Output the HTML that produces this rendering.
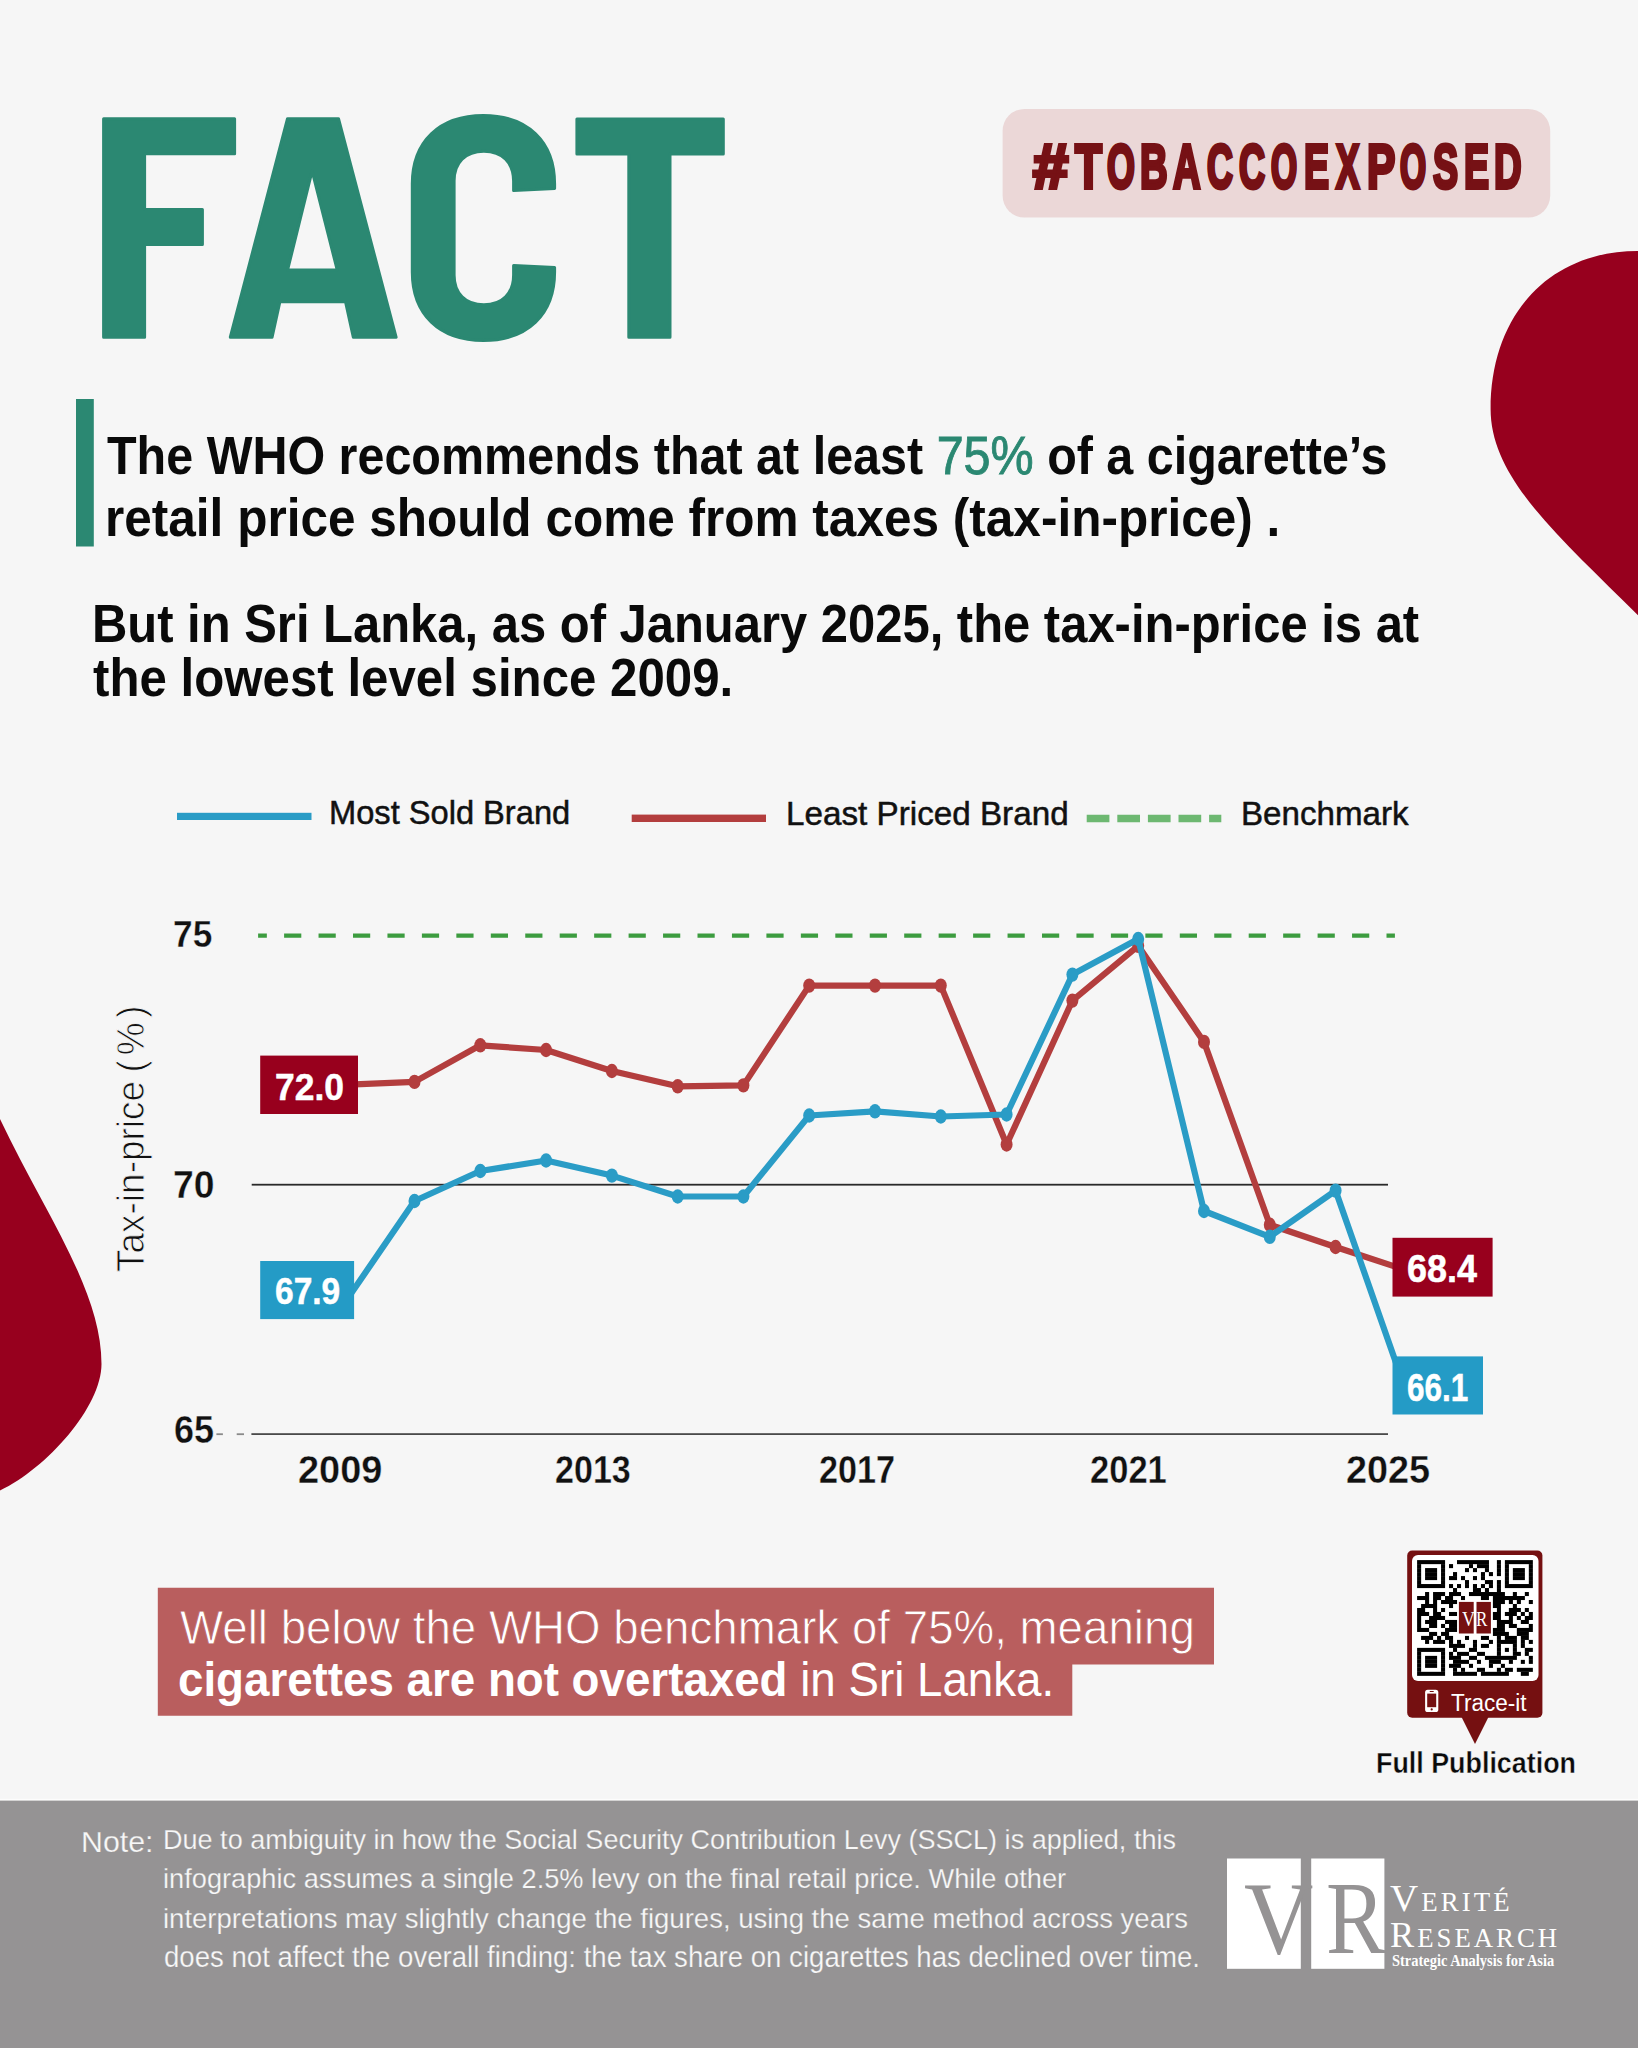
<!DOCTYPE html><html><head><meta charset="utf-8"><style>html,body{margin:0;padding:0}body{width:1638px;height:2048px;overflow:hidden;position:relative;background:#f6f6f6;font-family:"Liberation Sans",sans-serif}.t{position:absolute;white-space:nowrap;line-height:1;transform-origin:0 0}svg{position:absolute;left:0;top:0}</style></head><body><svg width="1638" height="2048" viewBox="0 0 1638 2048"><path fill="#97001e" d="M1638,251 C1549.6,251 1490.6,314.2 1490.6,409 C1490.6,479 1560.2,537.5 1638,615.3 Z"/><path fill="#97001e" d="M0,1119 C44,1212 101.5,1290 101.5,1364 C101.5,1407 47,1468 0,1490.6 Z"/><g fill="#2b8872" stroke="#2b8872" stroke-width="3" stroke-linejoin="round"><path d="M103.6,118.7 H234.6 V153.8 H144.6 V209.5 H202.4 V244.4 H144.6 V337.2 H103.6 Z"/><path fill-rule="evenodd" d="M230.3,337.2 L287.5,118.7 H338.5 L396.1,337.2 H353.3 L345.5,301.7 H279.9 L272.1,337.2 Z M312.1,171 L337.2,269.9 H287.6 Z"/><path d="M554.6,188.6 L513.6,190.6 L513.6,181 C513.6,162.6 502.25,151.25 483.85,151.25 C465.45,151.25 454.1,162.6 454.1,181 L454.1,275 C454.1,293.4 465.45,304.75 483.85,304.75 C502.25,304.75 513.6,293.4 513.6,275 L513.6,265.6 L554.6,267.6 L554.6,272 C554.6,314.5 527.55,340.5 483.45,340.5 C439.35,340.5 412.3,314.5 412.3,272 L412.3,184 C412.3,141.5 439.35,115.5 483.45,115.5 C527.55,115.5 554.6,141.5 554.6,184 Z"/><path d="M576.9,119.1 H723.3 V154.1 H670 V337.2 H628.8 V154.1 H576.9 Z"/></g><rect x="1002.6" y="108.9" width="547.6" height="108.7" rx="22" fill="#ebd7d7"/><rect x="76" y="399" width="17.8" height="147.5" fill="#2b8872"/><rect x="177" y="812.8" width="134.5" height="7.2" fill="#2a9cc6"/><rect x="631.7" y="814.6" width="134.3" height="7.4" fill="#b33e3e"/><line x1="1086.7" y1="818.5" x2="1221.3" y2="818.5" stroke="#6db871" stroke-width="7.4" stroke-dasharray="22.7 7.9"/><rect x="251.7" y="1183.8" width="1136.3" height="1.8" fill="#2a2a2a"/><rect x="251.4" y="1433.2" width="1136.6" height="1.8" fill="#4a4a4a"/><rect x="216.4" y="1433.3" width="6.5" height="1.8" fill="#8a8a8a"/><rect x="236.7" y="1433.3" width="7.3" height="1.8" fill="#8a8a8a"/><line x1="258.1" y1="935.6" x2="1394.9" y2="935.6" stroke="#3c9c3f" stroke-width="4.4" stroke-dasharray="17.2 17.25" stroke-dashoffset="8.45"/><polyline fill="none" stroke="#b33e3e" stroke-width="6.2" stroke-linejoin="round" points="348.7,1084.7 414.5,1081.9 480.3,1045.3 546.1,1050.0 611.9,1071.0 677.7,1086.3 743.4,1085.4 809.2,985.6 875.0,985.6 940.8,985.6 1006.6,1144.5 1072.4,1000.6 1138.2,945.8 1204.0,1041.9 1269.8,1224.8 1335.6,1247.0 1401.3,1268.6"/><ellipse cx="414.5" cy="1081.9" rx="6" ry="7.2" fill="#b33e3e"/><ellipse cx="480.3" cy="1045.3" rx="6" ry="7.2" fill="#b33e3e"/><ellipse cx="546.1" cy="1050.0" rx="6" ry="7.2" fill="#b33e3e"/><ellipse cx="611.9" cy="1071.0" rx="6" ry="7.2" fill="#b33e3e"/><ellipse cx="677.7" cy="1086.3" rx="6" ry="7.2" fill="#b33e3e"/><ellipse cx="743.4" cy="1085.4" rx="6" ry="7.2" fill="#b33e3e"/><ellipse cx="809.2" cy="985.6" rx="6" ry="7.2" fill="#b33e3e"/><ellipse cx="875.0" cy="985.6" rx="6" ry="7.2" fill="#b33e3e"/><ellipse cx="940.8" cy="985.6" rx="6" ry="7.2" fill="#b33e3e"/><ellipse cx="1006.6" cy="1144.5" rx="6" ry="7.2" fill="#b33e3e"/><ellipse cx="1072.4" cy="1000.6" rx="6" ry="7.2" fill="#b33e3e"/><ellipse cx="1138.2" cy="945.8" rx="6" ry="7.2" fill="#b33e3e"/><ellipse cx="1204.0" cy="1041.9" rx="6" ry="7.2" fill="#b33e3e"/><ellipse cx="1269.8" cy="1224.8" rx="6" ry="7.2" fill="#b33e3e"/><ellipse cx="1335.6" cy="1247.0" rx="6" ry="7.2" fill="#b33e3e"/><polyline fill="none" stroke="#2a9cc6" stroke-width="6.2" stroke-linejoin="round" points="348.7,1297.0 414.5,1201.0 480.3,1171.0 546.1,1160.5 611.9,1175.6 677.7,1196.5 743.4,1196.5 809.2,1115.5 875.0,1111.3 940.8,1116.5 1006.6,1114.5 1072.4,974.6 1138.2,939.0 1204.0,1211.0 1269.8,1236.8 1335.6,1190.6 1401.3,1378.0"/><ellipse cx="414.5" cy="1201.0" rx="6" ry="7.2" fill="#2a9cc6"/><ellipse cx="480.3" cy="1171.0" rx="6" ry="7.2" fill="#2a9cc6"/><ellipse cx="546.1" cy="1160.5" rx="6" ry="7.2" fill="#2a9cc6"/><ellipse cx="611.9" cy="1175.6" rx="6" ry="7.2" fill="#2a9cc6"/><ellipse cx="677.7" cy="1196.5" rx="6" ry="7.2" fill="#2a9cc6"/><ellipse cx="743.4" cy="1196.5" rx="6" ry="7.2" fill="#2a9cc6"/><ellipse cx="809.2" cy="1115.5" rx="6" ry="7.2" fill="#2a9cc6"/><ellipse cx="875.0" cy="1111.3" rx="6" ry="7.2" fill="#2a9cc6"/><ellipse cx="940.8" cy="1116.5" rx="6" ry="7.2" fill="#2a9cc6"/><ellipse cx="1006.6" cy="1114.5" rx="6" ry="7.2" fill="#2a9cc6"/><ellipse cx="1072.4" cy="974.6" rx="6" ry="7.2" fill="#2a9cc6"/><ellipse cx="1138.2" cy="939.0" rx="6" ry="7.2" fill="#2a9cc6"/><ellipse cx="1204.0" cy="1211.0" rx="6" ry="7.2" fill="#2a9cc6"/><ellipse cx="1269.8" cy="1236.8" rx="6" ry="7.2" fill="#2a9cc6"/><ellipse cx="1335.6" cy="1190.6" rx="6" ry="7.2" fill="#2a9cc6"/><rect x="260.2" y="1055.6" width="97.8" height="58.4" fill="#98001d"/><rect x="260.2" y="1261" width="93.9" height="58.1" fill="#249bc6"/><rect x="1392.5" y="1237.8" width="100.1" height="58.8" fill="#98001d"/><rect x="1392.5" y="1356.4" width="90.5" height="58.1" fill="#249bc6"/><path fill="#b95e5e" d="M157.8,1587.8 H1214 V1664.4 H1072.3 V1715.8 H157.8 Z"/><rect x="1407.2" y="1550.5" width="135.2" height="167.2" rx="5" fill="#751011"/><path fill="#751011" d="M1461,1716 L1489,1716 L1475,1744 Z"/><rect x="1412" y="1555" width="126.5" height="126" rx="6" fill="#fff"/><g fill="#000"><rect x="1417.10" y="1560.10" width="27.98" height="4.04"/><rect x="1457.00" y="1560.10" width="31.97" height="4.04"/><rect x="1496.90" y="1560.10" width="4.04" height="4.04"/><rect x="1504.88" y="1560.10" width="27.98" height="4.04"/><rect x="1417.10" y="1564.09" width="4.04" height="4.04"/><rect x="1441.04" y="1564.09" width="4.04" height="4.04"/><rect x="1449.02" y="1564.09" width="4.04" height="4.04"/><rect x="1468.97" y="1564.09" width="4.04" height="4.04"/><rect x="1476.95" y="1564.09" width="12.02" height="4.04"/><rect x="1496.90" y="1564.09" width="4.04" height="4.04"/><rect x="1504.88" y="1564.09" width="4.04" height="4.04"/><rect x="1528.82" y="1564.09" width="4.04" height="4.04"/><rect x="1417.10" y="1568.08" width="4.04" height="4.04"/><rect x="1425.08" y="1568.08" width="12.02" height="4.04"/><rect x="1441.04" y="1568.08" width="4.04" height="4.04"/><rect x="1464.98" y="1568.08" width="4.04" height="4.04"/><rect x="1472.96" y="1568.08" width="4.04" height="4.04"/><rect x="1484.93" y="1568.08" width="4.04" height="4.04"/><rect x="1496.90" y="1568.08" width="4.04" height="4.04"/><rect x="1504.88" y="1568.08" width="4.04" height="4.04"/><rect x="1512.86" y="1568.08" width="12.02" height="4.04"/><rect x="1528.82" y="1568.08" width="4.04" height="4.04"/><rect x="1417.10" y="1572.07" width="4.04" height="4.04"/><rect x="1425.08" y="1572.07" width="12.02" height="4.04"/><rect x="1441.04" y="1572.07" width="4.04" height="4.04"/><rect x="1453.01" y="1572.07" width="4.04" height="4.04"/><rect x="1480.94" y="1572.07" width="4.04" height="4.04"/><rect x="1488.92" y="1572.07" width="4.04" height="4.04"/><rect x="1496.90" y="1572.07" width="4.04" height="4.04"/><rect x="1504.88" y="1572.07" width="4.04" height="4.04"/><rect x="1512.86" y="1572.07" width="12.02" height="4.04"/><rect x="1528.82" y="1572.07" width="4.04" height="4.04"/><rect x="1417.10" y="1576.06" width="4.04" height="4.04"/><rect x="1425.08" y="1576.06" width="12.02" height="4.04"/><rect x="1441.04" y="1576.06" width="4.04" height="4.04"/><rect x="1449.02" y="1576.06" width="8.03" height="4.04"/><rect x="1460.99" y="1576.06" width="4.04" height="4.04"/><rect x="1472.96" y="1576.06" width="4.04" height="4.04"/><rect x="1480.94" y="1576.06" width="4.04" height="4.04"/><rect x="1504.88" y="1576.06" width="4.04" height="4.04"/><rect x="1512.86" y="1576.06" width="12.02" height="4.04"/><rect x="1528.82" y="1576.06" width="4.04" height="4.04"/><rect x="1417.10" y="1580.05" width="4.04" height="4.04"/><rect x="1441.04" y="1580.05" width="4.04" height="4.04"/><rect x="1464.98" y="1580.05" width="4.04" height="4.04"/><rect x="1484.93" y="1580.05" width="8.03" height="4.04"/><rect x="1496.90" y="1580.05" width="4.04" height="4.04"/><rect x="1504.88" y="1580.05" width="4.04" height="4.04"/><rect x="1528.82" y="1580.05" width="4.04" height="4.04"/><rect x="1417.10" y="1584.04" width="27.98" height="4.04"/><rect x="1449.02" y="1584.04" width="4.04" height="4.04"/><rect x="1457.00" y="1584.04" width="4.04" height="4.04"/><rect x="1464.98" y="1584.04" width="4.04" height="4.04"/><rect x="1472.96" y="1584.04" width="4.04" height="4.04"/><rect x="1480.94" y="1584.04" width="4.04" height="4.04"/><rect x="1488.92" y="1584.04" width="4.04" height="4.04"/><rect x="1496.90" y="1584.04" width="4.04" height="4.04"/><rect x="1504.88" y="1584.04" width="27.98" height="4.04"/><rect x="1453.01" y="1588.03" width="4.04" height="4.04"/><rect x="1472.96" y="1588.03" width="8.03" height="4.04"/><rect x="1484.93" y="1588.03" width="4.04" height="4.04"/><rect x="1496.90" y="1588.03" width="4.04" height="4.04"/><rect x="1425.08" y="1592.02" width="4.04" height="4.04"/><rect x="1433.06" y="1592.02" width="12.02" height="4.04"/><rect x="1449.02" y="1592.02" width="12.02" height="4.04"/><rect x="1468.97" y="1592.02" width="35.96" height="4.04"/><rect x="1512.86" y="1592.02" width="4.04" height="4.04"/><rect x="1524.83" y="1592.02" width="4.04" height="4.04"/><rect x="1417.10" y="1596.01" width="12.02" height="4.04"/><rect x="1433.06" y="1596.01" width="8.03" height="4.04"/><rect x="1445.03" y="1596.01" width="8.03" height="4.04"/><rect x="1460.99" y="1596.01" width="4.04" height="4.04"/><rect x="1480.94" y="1596.01" width="8.03" height="4.04"/><rect x="1492.91" y="1596.01" width="31.97" height="4.04"/><rect x="1425.08" y="1600.00" width="4.04" height="4.04"/><rect x="1433.06" y="1600.00" width="4.04" height="4.04"/><rect x="1441.04" y="1600.00" width="16.01" height="4.04"/><rect x="1492.91" y="1600.00" width="12.02" height="4.04"/><rect x="1508.87" y="1600.00" width="4.04" height="4.04"/><rect x="1516.85" y="1600.00" width="4.04" height="4.04"/><rect x="1528.82" y="1600.00" width="4.04" height="4.04"/><rect x="1421.09" y="1603.99" width="16.01" height="4.04"/><rect x="1449.02" y="1603.99" width="4.04" height="4.04"/><rect x="1492.91" y="1603.99" width="8.03" height="4.04"/><rect x="1512.86" y="1603.99" width="4.04" height="4.04"/><rect x="1417.10" y="1607.98" width="8.03" height="4.04"/><rect x="1433.06" y="1607.98" width="4.04" height="4.04"/><rect x="1441.04" y="1607.98" width="4.04" height="4.04"/><rect x="1496.90" y="1607.98" width="4.04" height="4.04"/><rect x="1508.87" y="1607.98" width="12.02" height="4.04"/><rect x="1524.83" y="1607.98" width="4.04" height="4.04"/><rect x="1417.10" y="1611.97" width="12.02" height="4.04"/><rect x="1433.06" y="1611.97" width="8.03" height="4.04"/><rect x="1449.02" y="1611.97" width="8.03" height="4.04"/><rect x="1492.91" y="1611.97" width="8.03" height="4.04"/><rect x="1504.88" y="1611.97" width="12.02" height="4.04"/><rect x="1520.84" y="1611.97" width="4.04" height="4.04"/><rect x="1528.82" y="1611.97" width="4.04" height="4.04"/><rect x="1417.10" y="1615.96" width="4.04" height="4.04"/><rect x="1429.07" y="1615.96" width="16.01" height="4.04"/><rect x="1492.91" y="1615.96" width="8.03" height="4.04"/><rect x="1508.87" y="1615.96" width="4.04" height="4.04"/><rect x="1516.85" y="1615.96" width="4.04" height="4.04"/><rect x="1524.83" y="1615.96" width="8.03" height="4.04"/><rect x="1417.10" y="1619.95" width="4.04" height="4.04"/><rect x="1425.08" y="1619.95" width="12.02" height="4.04"/><rect x="1445.03" y="1619.95" width="12.02" height="4.04"/><rect x="1496.90" y="1619.95" width="16.01" height="4.04"/><rect x="1520.84" y="1619.95" width="8.03" height="4.04"/><rect x="1417.10" y="1623.94" width="4.04" height="4.04"/><rect x="1429.07" y="1623.94" width="8.03" height="4.04"/><rect x="1441.04" y="1623.94" width="4.04" height="4.04"/><rect x="1449.02" y="1623.94" width="8.03" height="4.04"/><rect x="1496.90" y="1623.94" width="8.03" height="4.04"/><rect x="1508.87" y="1623.94" width="8.03" height="4.04"/><rect x="1528.82" y="1623.94" width="4.04" height="4.04"/><rect x="1417.10" y="1627.93" width="12.02" height="4.04"/><rect x="1445.03" y="1627.93" width="12.02" height="4.04"/><rect x="1492.91" y="1627.93" width="12.02" height="4.04"/><rect x="1516.85" y="1627.93" width="16.01" height="4.04"/><rect x="1429.07" y="1631.92" width="8.03" height="4.04"/><rect x="1441.04" y="1631.92" width="8.03" height="4.04"/><rect x="1492.91" y="1631.92" width="16.01" height="4.04"/><rect x="1516.85" y="1631.92" width="12.02" height="4.04"/><rect x="1421.09" y="1635.91" width="12.02" height="4.04"/><rect x="1437.05" y="1635.91" width="4.04" height="4.04"/><rect x="1445.03" y="1635.91" width="8.03" height="4.04"/><rect x="1464.98" y="1635.91" width="4.04" height="4.04"/><rect x="1480.94" y="1635.91" width="8.03" height="4.04"/><rect x="1496.90" y="1635.91" width="4.04" height="4.04"/><rect x="1504.88" y="1635.91" width="12.02" height="4.04"/><rect x="1520.84" y="1635.91" width="8.03" height="4.04"/><rect x="1425.08" y="1639.90" width="4.04" height="4.04"/><rect x="1433.06" y="1639.90" width="12.02" height="4.04"/><rect x="1449.02" y="1639.90" width="4.04" height="4.04"/><rect x="1457.00" y="1639.90" width="4.04" height="4.04"/><rect x="1472.96" y="1639.90" width="4.04" height="4.04"/><rect x="1488.92" y="1639.90" width="4.04" height="4.04"/><rect x="1496.90" y="1639.90" width="20.00" height="4.04"/><rect x="1520.84" y="1639.90" width="4.04" height="4.04"/><rect x="1528.82" y="1639.90" width="4.04" height="4.04"/><rect x="1449.02" y="1643.89" width="16.01" height="4.04"/><rect x="1472.96" y="1643.89" width="4.04" height="4.04"/><rect x="1480.94" y="1643.89" width="8.03" height="4.04"/><rect x="1496.90" y="1643.89" width="4.04" height="4.04"/><rect x="1512.86" y="1643.89" width="4.04" height="4.04"/><rect x="1520.84" y="1643.89" width="4.04" height="4.04"/><rect x="1417.10" y="1647.88" width="27.98" height="4.04"/><rect x="1453.01" y="1647.88" width="4.04" height="4.04"/><rect x="1468.97" y="1647.88" width="8.03" height="4.04"/><rect x="1496.90" y="1647.88" width="4.04" height="4.04"/><rect x="1504.88" y="1647.88" width="4.04" height="4.04"/><rect x="1512.86" y="1647.88" width="4.04" height="4.04"/><rect x="1524.83" y="1647.88" width="8.03" height="4.04"/><rect x="1417.10" y="1651.87" width="4.04" height="4.04"/><rect x="1441.04" y="1651.87" width="4.04" height="4.04"/><rect x="1449.02" y="1651.87" width="4.04" height="4.04"/><rect x="1457.00" y="1651.87" width="12.02" height="4.04"/><rect x="1476.95" y="1651.87" width="8.03" height="4.04"/><rect x="1496.90" y="1651.87" width="4.04" height="4.04"/><rect x="1512.86" y="1651.87" width="8.03" height="4.04"/><rect x="1524.83" y="1651.87" width="4.04" height="4.04"/><rect x="1417.10" y="1655.86" width="4.04" height="4.04"/><rect x="1425.08" y="1655.86" width="12.02" height="4.04"/><rect x="1441.04" y="1655.86" width="4.04" height="4.04"/><rect x="1449.02" y="1655.86" width="12.02" height="4.04"/><rect x="1468.97" y="1655.86" width="8.03" height="4.04"/><rect x="1484.93" y="1655.86" width="31.97" height="4.04"/><rect x="1528.82" y="1655.86" width="4.04" height="4.04"/><rect x="1417.10" y="1659.85" width="4.04" height="4.04"/><rect x="1425.08" y="1659.85" width="12.02" height="4.04"/><rect x="1441.04" y="1659.85" width="4.04" height="4.04"/><rect x="1453.01" y="1659.85" width="16.01" height="4.04"/><rect x="1476.95" y="1659.85" width="4.04" height="4.04"/><rect x="1488.92" y="1659.85" width="12.02" height="4.04"/><rect x="1508.87" y="1659.85" width="4.04" height="4.04"/><rect x="1520.84" y="1659.85" width="4.04" height="4.04"/><rect x="1528.82" y="1659.85" width="4.04" height="4.04"/><rect x="1417.10" y="1663.84" width="4.04" height="4.04"/><rect x="1425.08" y="1663.84" width="12.02" height="4.04"/><rect x="1441.04" y="1663.84" width="4.04" height="4.04"/><rect x="1449.02" y="1663.84" width="12.02" height="4.04"/><rect x="1468.97" y="1663.84" width="4.04" height="4.04"/><rect x="1488.92" y="1663.84" width="4.04" height="4.04"/><rect x="1500.89" y="1663.84" width="4.04" height="4.04"/><rect x="1417.10" y="1667.83" width="4.04" height="4.04"/><rect x="1441.04" y="1667.83" width="4.04" height="4.04"/><rect x="1453.01" y="1667.83" width="4.04" height="4.04"/><rect x="1460.99" y="1667.83" width="4.04" height="4.04"/><rect x="1476.95" y="1667.83" width="8.03" height="4.04"/><rect x="1496.90" y="1667.83" width="4.04" height="4.04"/><rect x="1504.88" y="1667.83" width="8.03" height="4.04"/><rect x="1516.85" y="1667.83" width="16.01" height="4.04"/><rect x="1417.10" y="1671.82" width="27.98" height="4.04"/><rect x="1453.01" y="1671.82" width="23.99" height="4.04"/><rect x="1480.94" y="1671.82" width="27.98" height="4.04"/><rect x="1520.84" y="1671.82" width="8.03" height="4.04"/></g><rect x="1458.3" y="1601.5" width="33.2" height="32.6" fill="#fff"/><rect x="1458.9" y="1601.9" width="14.8" height="31.6" fill="#751011"/><rect x="1476.5" y="1601.9" width="14.4" height="31.6" fill="#751011"/><rect x="1425.1" y="1689.8" width="13.2" height="22.2" rx="2.6" fill="#fff"/><rect x="1427.2" y="1693.6" width="9" height="13.6" fill="#751011"/><rect x="1429.6" y="1691.1" width="4.2" height="1" rx="0.5" fill="#751011"/><circle cx="1431.7" cy="1709.4" r="1.1" fill="#751011"/><rect x="0" y="1800.5" width="1638" height="248" fill="#959394"/><rect x="0" y="1798.8" width="1638" height="1.5" fill="#fff" opacity="0.8"/><rect x="1227" y="1858.5" width="73.8" height="110.3" fill="#fff"/><rect x="1311.2" y="1858.5" width="73.2" height="110.3" fill="#fff"/></svg><div class="t" id="h1a" style="left:107.19px;top:429.03px;font-size:53.343px;font-weight:700;color:#0a0a0a;transform:scaleX(0.9090)">The WHO recommends that at least <span style="color:#2b8872;font-weight:400;-webkit-text-stroke:0.9px #2b8872">75%</span> of a cigarette’s</div><div class="t" id="h1b" style="left:104.78px;top:491.23px;font-size:53.343px;font-weight:700;color:#0a0a0a;transform:scaleX(0.9288)">retail price should come from taxes (tax-in-price) .</div><div class="t" id="h2a" style="left:92.39px;top:598.43px;font-size:52.762px;font-weight:700;color:#0a0a0a;transform:scaleX(0.9277)">But in Sri Lanka, as of January 2025, the tax-in-price is at</div><div class="t" id="h2b" style="left:93.38px;top:651.03px;font-size:53.343px;font-weight:700;color:#0a0a0a;transform:scaleX(0.9231)">the lowest level since 2009.</div><div class="t" id="leg1" style="left:329.12px;top:794.60px;font-size:34.012px;font-weight:400;color:#111;-webkit-text-stroke:0.50px #111;transform:scaleX(0.9595)">Most Sold Brand</div><div class="t" id="leg2" style="left:785.61px;top:796.69px;font-size:33.430px;font-weight:400;color:#111;-webkit-text-stroke:0.50px #111;transform:scaleX(0.9943)">Least Priced Brand</div><div class="t" id="leg3" style="left:1241.00px;top:796.74px;font-size:33.140px;font-weight:400;color:#111;-webkit-text-stroke:0.50px #111;transform:scaleX(1.0000)">Benchmark</div><div class="t" id="y75" style="left:173.12px;top:916.05px;font-size:37.500px;font-weight:700;color:#111;-webkit-text-stroke:0.35px #f6f6f6;transform:scaleX(0.9410)">75</div><div class="t" id="y70" style="left:172.75px;top:1165.63px;font-size:38.227px;font-weight:700;color:#111;-webkit-text-stroke:0.35px #f6f6f6;transform:scaleX(0.9769)">70</div><div class="t" id="y65" style="left:173.66px;top:1410.51px;font-size:38.372px;font-weight:700;color:#111;-webkit-text-stroke:0.35px #f6f6f6;transform:scaleX(0.9366)">65</div><div class="t" id="x09" style="left:297.52px;top:1450.86px;font-size:38.663px;font-weight:700;color:#111;-webkit-text-stroke:0.35px #f6f6f6;transform:scaleX(0.9810)">2009</div><div class="t" id="x13" style="left:554.72px;top:1450.86px;font-size:38.663px;font-weight:700;color:#111;-webkit-text-stroke:0.35px #f6f6f6;transform:scaleX(0.8810)">2013</div><div class="t" id="x17" style="left:819.22px;top:1450.86px;font-size:38.663px;font-weight:700;color:#111;-webkit-text-stroke:0.35px #f6f6f6;transform:scaleX(0.8843)">2017</div><div class="t" id="x21" style="left:1090.01px;top:1450.86px;font-size:38.663px;font-weight:700;color:#111;-webkit-text-stroke:0.35px #f6f6f6;transform:scaleX(0.8929)">2021</div><div class="t" id="x25" style="left:1346.22px;top:1450.86px;font-size:38.663px;font-weight:700;color:#111;-webkit-text-stroke:0.35px #f6f6f6;transform:scaleX(0.9786)">2025</div><div class="t" id="b720" style="left:274.54px;top:1068.82px;font-size:37.064px;font-weight:700;color:#fff;-webkit-text-stroke:0.50px #fff;transform:scaleX(0.9557)">72.0</div><div class="t" id="b679" style="left:274.60px;top:1273.49px;font-size:37.209px;font-weight:700;color:#fff;-webkit-text-stroke:0.50px #fff;transform:scaleX(0.9014)">67.9</div><div class="t" id="b684" style="left:1406.56px;top:1249.91px;font-size:38.372px;font-weight:700;color:#fff;-webkit-text-stroke:0.50px #fff;transform:scaleX(0.9378)">68.4</div><div class="t" id="b661" style="left:1406.69px;top:1367.60px;font-size:39.099px;font-weight:700;color:#fff;-webkit-text-stroke:0.50px #fff;transform:scaleX(0.8054)">66.1</div><div class="t" id="co1" style="left:179.60px;top:1604.43px;font-size:47.674px;font-weight:400;color:#fff;-webkit-text-stroke:0.80px #b95e5e;transform:scaleX(0.9586)">Well below the WHO benchmark of 75%, meaning</div><div class="t" id="co2" style="left:177.68px;top:1656.33px;font-size:47.674px;font-weight:400;color:#fff;transform:scaleX(0.9588)"><b>cigarettes are not overtaxed</b> in Sri Lanka.</div><div class="t" id="trace" style="left:1450.64px;top:1691.56px;font-size:23.547px;font-weight:400;color:#fff;transform:scaleX(0.9577)">Trace-it</div><div class="t" id="fullpub" style="left:1376.03px;top:1748.83px;font-size:28.779px;font-weight:700;color:#0a0a0a;-webkit-text-stroke:0.35px #f6f6f6;transform:scaleX(0.9338)">Full Publication</div><div class="t" id="note" style="left:81.27px;top:1827.25px;font-size:29.942px;font-weight:400;color:#f8f8f8;-webkit-text-stroke:0.25px #959394;transform:scaleX(1.0134)">Note:</div><div class="t" id="f1" style="left:163.49px;top:1825.20px;font-size:28.343px;font-weight:400;color:#f8f8f8;-webkit-text-stroke:0.25px #959394;transform:scaleX(0.9545)">Due to ambiguity in how the Social Security Contribution Levy (SSCL) is applied, this</div><div class="t" id="f2" style="left:163.48px;top:1864.40px;font-size:28.343px;font-weight:400;color:#f8f8f8;-webkit-text-stroke:0.25px #959394;transform:scaleX(0.9607)">infographic assumes a single 2.5% levy on the final retail price. While other</div><div class="t" id="f3" style="left:163.46px;top:1903.60px;font-size:28.343px;font-weight:400;color:#f8f8f8;-webkit-text-stroke:0.25px #959394;transform:scaleX(0.9715)">interpretations may slightly change the figures, using the same method across years</div><div class="t" id="f4" style="left:164.44px;top:1942.73px;font-size:28.779px;font-weight:400;color:#f8f8f8;-webkit-text-stroke:0.25px #959394;transform:scaleX(0.9589)">does not affect the overall finding: the tax share on cigarettes has declined over time.</div><div class="t" style="left:1033.10px;top:134.64px;font-size:63.372px;font-weight:700;color:#761115;-webkit-text-stroke:4px #761115;transform:scaleX(1.0000)">#</div><div class="t" style="left:1074.90px;top:134.64px;font-size:63.372px;font-weight:700;color:#761115;-webkit-text-stroke:4px #761115;transform:scaleX(0.6976)">T</div><div class="t" style="left:1107.36px;top:134.64px;font-size:63.372px;font-weight:700;color:#761115;-webkit-text-stroke:4px #761115;text-shadow:1.28px 0 0 #761115,-1.28px 0 0 #761115;transform:scaleX(0.5658)">O</div><div class="t" style="left:1140.27px;top:134.64px;font-size:63.372px;font-weight:700;color:#761115;-webkit-text-stroke:4px #761115;text-shadow:0.79px 0 0 #761115,-0.79px 0 0 #761115;transform:scaleX(0.6035)">B</div><div class="t" style="left:1172.88px;top:134.64px;font-size:63.372px;font-weight:700;color:#761115;-webkit-text-stroke:4px #761115;text-shadow:0.80px 0 0 #761115,-0.80px 0 0 #761115;transform:scaleX(0.6028)">A</div><div class="t" style="left:1206.55px;top:134.64px;font-size:63.372px;font-weight:700;color:#761115;-webkit-text-stroke:4px #761115;text-shadow:1.27px 0 0 #761115,-1.27px 0 0 #761115;transform:scaleX(0.5658)">C</div><div class="t" style="left:1238.93px;top:134.64px;font-size:63.372px;font-weight:700;color:#761115;-webkit-text-stroke:4px #761115;text-shadow:1.23px 0 0 #761115,-1.23px 0 0 #761115;transform:scaleX(0.5690)">C</div><div class="t" style="left:1271.43px;top:134.64px;font-size:63.372px;font-weight:700;color:#761115;-webkit-text-stroke:4px #761115;text-shadow:1.82px 0 0 #761115,-1.82px 0 0 #761115;transform:scaleX(0.5288)">O</div><div class="t" style="left:1303.65px;top:134.64px;font-size:63.372px;font-weight:700;color:#761115;-webkit-text-stroke:4px #761115;text-shadow:0.91px 0 0 #761115,-0.91px 0 0 #761115;transform:scaleX(0.5931)">E</div><div class="t" style="left:1336.26px;top:134.64px;font-size:63.372px;font-weight:700;color:#761115;-webkit-text-stroke:4px #761115;text-shadow:1.43px 0 0 #761115,-1.43px 0 0 #761115;transform:scaleX(0.5544)">X</div><div class="t" style="left:1366.70px;top:134.64px;font-size:63.372px;font-weight:700;color:#761115;-webkit-text-stroke:4px #761115;text-shadow:0.06px 0 0 #761115,-0.06px 0 0 #761115;transform:scaleX(0.6705)">P</div><div class="t" style="left:1400.13px;top:134.64px;font-size:63.372px;font-weight:700;color:#761115;-webkit-text-stroke:4px #761115;text-shadow:1.82px 0 0 #761115,-1.82px 0 0 #761115;transform:scaleX(0.5288)">O</div><div class="t" style="left:1432.74px;top:134.64px;font-size:63.372px;font-weight:700;color:#761115;-webkit-text-stroke:4px #761115;text-shadow:0.91px 0 0 #761115,-0.91px 0 0 #761115;transform:scaleX(0.5934)">S</div><div class="t" style="left:1463.55px;top:134.64px;font-size:63.372px;font-weight:700;color:#761115;-webkit-text-stroke:4px #761115;text-shadow:0.91px 0 0 #761115,-0.91px 0 0 #761115;transform:scaleX(0.5931)">E</div><div class="t" style="left:1493.87px;top:134.64px;font-size:63.372px;font-weight:700;color:#761115;-webkit-text-stroke:4px #761115;text-shadow:0.79px 0 0 #761115,-0.79px 0 0 #761115;transform:scaleX(0.6035)">D</div><div class="t" id="ytitle" style="left:111.35px;top:1271.94px;font-size:39.390px;color:#111;-webkit-text-stroke:0.9px #f6f6f6;transform:rotate(-90deg) scaleX(0.9393)">Tax-in-price<span style="margin-left:9px">(</span><span style="margin:0 5px">%</span>)</div><div class="t" style="left:1244.00px;top:1867.44px;font-family:'Liberation Serif',serif;font-size:103.359px;font-weight:400;color:#959394;transform:scaleX(0.930);">V</div><div class="t" style="left:1326.00px;top:1867.44px;font-family:'Liberation Serif',serif;font-size:103.359px;font-weight:400;color:#959394;transform:scaleX(0.860);">R</div><div class="t" style="left:1390.00px;top:1879.20px;font-family:'Liberation Serif',serif;font-size:38.931px;font-weight:400;color:#fff;transform:scaleX(1.000);letter-spacing:3.1px">V<span style="font-size:69%">ERITÉ</span></div><div class="t" style="left:1390.00px;top:1917.00px;font-family:'Liberation Serif',serif;font-size:36.183px;font-weight:400;color:#fff;transform:scaleX(1.000);letter-spacing:3px">R<span style="font-size:74%">ESEARCH</span></div><div class="t" style="left:1391.50px;top:1952.05px;font-family:'Liberation Serif',serif;font-size:17.252px;font-weight:700;color:#fff;transform:scaleX(0.837);">Strategic Analysis for Asia</div><div class="t" style="left:1461.50px;top:1608.60px;font-family:'Liberation Serif',serif;font-size:21.374px;font-weight:400;color:#fff;transform:scaleX(0.850);">V</div><div class="t" style="left:1476.00px;top:1608.60px;font-family:'Liberation Serif',serif;font-size:21.374px;font-weight:400;color:#fff;transform:scaleX(0.800);">R</div></body></html>
